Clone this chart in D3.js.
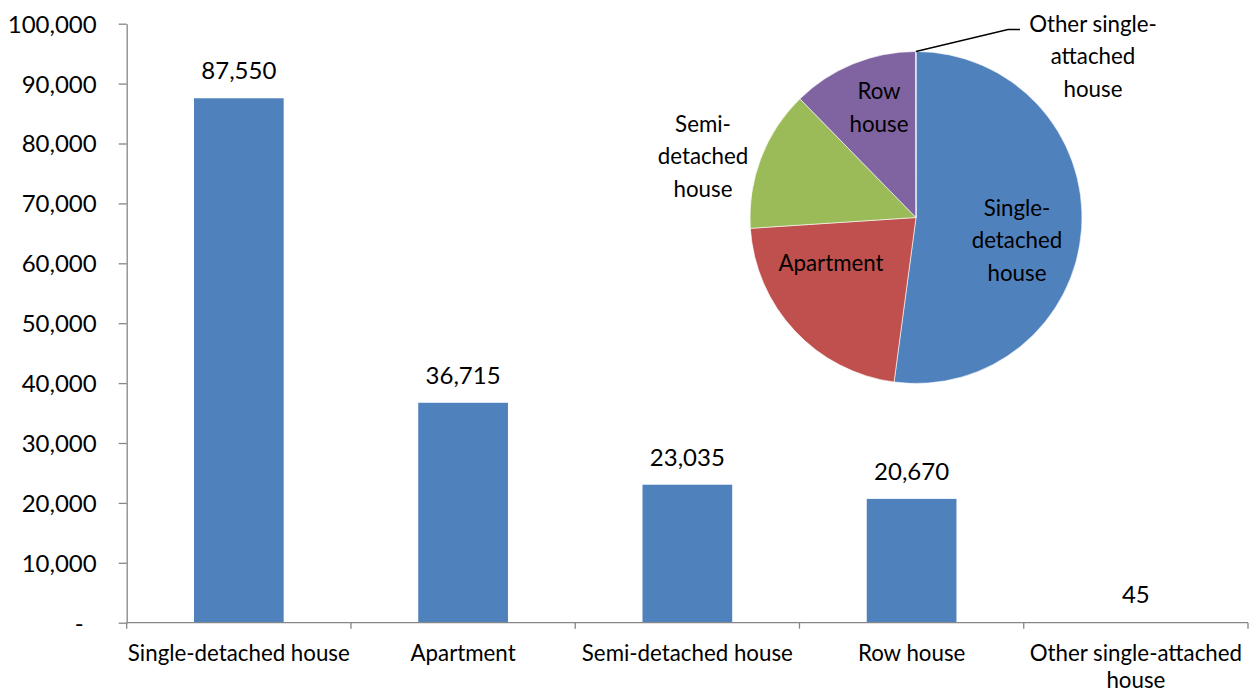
<!DOCTYPE html>
<html lang="en">
  <head>
    <title>Dwelling types</title>
    <script src="https://d3js.org/d3.v7.min.js"></script>
    <style>
      body {
        margin: 0;
        background: #fff;
      }

      text {
        font-family: Lato, "Open Sans", sans-serif;
        font-size: 22.3px;
        fill: #000;
      }

      text.num {
        font-size: 24px;
      }

      .axis path,
      .axis line {
        stroke: #868686;
        stroke-width: 1.3px;
      }
    </style>
  </head>
  <body>
    <script>
      const categories = ['Single-detached house', 'Apartment', 'Semi-detached house', 'Row house', 'Other single-attached house'];
      const counts = [87550, 36715, 23035, 20670, 45];
      const yTicks = [0, 10000, 20000, 30000, 40000, 50000, 60000, 70000, 80000, 90000, 100000];
      const pieColors = ['#4F81BD', '#C0504D', '#9BBB59', '#8064A2', '#4BACC6'];

      const w = 1249;
      const h = 692;
      const plotLeft = 126.7;
      const plotRight = 1248;
      const plotTop = 23.7;
      const plotBottom = 622.7;

      const svg = d3.select('body')
                    .append('svg')
                    .attr('width', w)
                    .attr('height', h);

      const xScale = d3.scaleBand()
                       .domain(categories)
                       .range([plotLeft, plotRight]);

      const yScale = d3.scaleLinear()
                       .domain([0, 100000])
                       .range([plotBottom, plotTop]);

      const barWidth = xScale.bandwidth() * 0.4;
      const fmt = d3.format(',');

      // bars
      svg.selectAll('.bar')
         .data(counts)
         .enter()
         .append('rect')
          .attr('class', 'bar')
          .attr('x', (d, i) => xScale(categories[i]) + xScale.bandwidth() / 2 - barWidth / 2)
          .attr('y', d => yScale(d))
          .attr('width', barWidth)
          .attr('height', d => plotBottom - yScale(d))
          .attr('fill', '#4F81BD');

      // value labels
      svg.selectAll('.value')
         .data(counts)
         .enter()
         .append('text')
          .attr('class', 'value num')
          .attr('x', (d, i) => xScale(categories[i]) + xScale.bandwidth() / 2)
          .attr('y', d => yScale(d) - 19)
          .attr('text-anchor', 'middle')
          .text(d => fmt(d));

      // y axis
      const yAxis = d3.axisLeft(yScale)
                      .tickValues(yTicks)
                      .tickSize(8)
                      .tickPadding(22)
                      .tickSizeOuter(0)
                      .tickFormat(d => d === 0 ? '-' : fmt(d));

      const gy = svg.append('g')
                    .attr('class', 'axis')
                    .attr('transform', `translate(${plotLeft}, 0)`)
                    .call(yAxis);
      gy.selectAll('text')
        .attr('class', 'num')
        .style('font-size', '24px')
        .style('font-family', 'Lato, sans-serif')
        .attr('dy', '0.35em');
      gy.selectAll('.tick')
        .filter(d => d === 0)
        .select('text')
        .attr('x', -43);

      // x axis
      const gx = svg.append('g')
                    .attr('class', 'axis')
                    .attr('transform', `translate(0, ${plotBottom})`);
      gx.append('line')
        .attr('x1', plotLeft).attr('x2', plotRight)
        .attr('y1', 0).attr('y2', 0);
      const bounds = categories.map(c => xScale(c)).concat([plotRight]);
      gx.selectAll('.xtick')
        .data(bounds)
        .enter()
        .append('line')
         .attr('x1', d => d).attr('x2', d => d)
         .attr('y1', 0).attr('y2', 6);

      const catLines = [['Single-detached house'], ['Apartment'], ['Semi-detached house'], ['Row house'], ['Other single-attached', 'house']];
      categories.forEach((c, i) => {
        const t = svg.append('text')
                     .attr('text-anchor', 'middle')
                     .attr('x', xScale(c) + xScale.bandwidth() / 2)
                     .attr('y', 661);
        catLines[i].forEach((line, j) => {
          t.append('tspan')
           .attr('x', xScale(c) + xScale.bandwidth() / 2)
           .attr('dy', j === 0 ? 0 : 26.5)
           .text(line);
        });
      });

      // pie inset
      const cx = 916;
      const cy = 217.5;
      const radius = 166;

      const pie = d3.pie().sort(null);
      const arc = d3.arc().innerRadius(0).outerRadius(radius);
      const arcs = pie(counts);

      const pieG = svg.append('g')
                      .attr('transform', `translate(${cx}, ${cy})`);

      pieG.selectAll('path')
          .data(arcs)
          .enter()
          .append('path')
           .attr('d', arc)
           .attr('fill', (d, i) => pieColors[i])
           .attr('stroke', '#fff')
           .attr('stroke-width', 0.6);

      // label offsets from pie centre
      const pieLabels = [
        { lines: ['Single-', 'detached', 'house'], dx: 101, dy: -2 },
        { lines: ['Apartment'], dx: -85, dy: 53 },
        { lines: ['Semi-', 'detached', 'house'], dx: -213, dy: -86 },
        { lines: ['Row', 'house'], dx: -37, dy: -118.5 },
        { lines: ['Other single-', 'attached', 'house'], dx: 177, dy: -186 }
      ];

      pieLabels.forEach(l => {
        const t = pieG.append('text')
                      .attr('text-anchor', 'middle')
                      .attr('x', l.dx)
                      .attr('y', l.dy);
        l.lines.forEach((line, j) => {
          t.append('tspan')
           .attr('x', l.dx)
           .attr('dy', j === 0 ? 0 : 32.5)
           .text(line);
        });
      });

      // leader line for the tiny slice
      const otherArc = arcs[4];
      const mid = (otherArc.startAngle + otherArc.endAngle) / 2;
      const px = Math.sin(mid) * radius;
      const py = -Math.cos(mid) * radius;
      pieG.append('path')
          .attr('d', `M${px},${py}L92,-188L104,-188`)
          .attr('fill', 'none')
          .attr('stroke', '#000')
          .attr('stroke-width', 1.3);
    </script>
  </body>
</html>
